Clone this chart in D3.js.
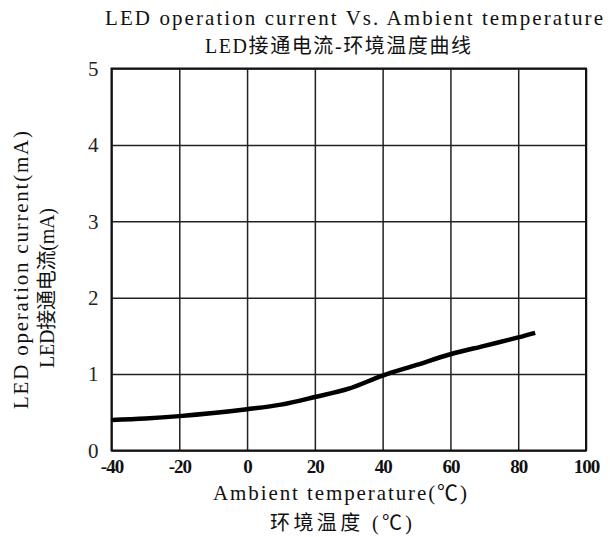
<!DOCTYPE html>
<html>
<head>
<meta charset="utf-8">
<script src="https://cdn.jsdelivr.net/npm/d3@7"></script>
<style>
  body { margin: 0; background: #fff; }
  .lbl { font-family: 'Liberation Serif', 'Noto Sans CJK SC', serif; fill: #111; }
</style>
</head>
<body>
<div id="chart"></div>
<script>
// data
const temps = [-40, -30, -20, -10, 0, 10, 20, 30, 40, 50, 60, 70, 80, 85];
const currents = [0.40, 0.42, 0.45, 0.49, 0.54, 0.60, 0.70, 0.81, 0.98, 1.12, 1.26, 1.37, 1.48, 1.54];
const xTicks = [-40, -20, 0, 20, 40, 60, 80, 100];
const yTicks = [0, 1, 2, 3, 4, 5];

const width = 610, height = 537;
const margin = { top: 68.5, right: 24, bottom: 86.5, left: 111.5 };
const innerW = width - margin.left - margin.right;
const innerH = height - margin.top - margin.bottom;

const svg = d3.select('#chart')
  .append('svg')
  .attr('width', width)
  .attr('height', height);

const x = d3.scaleLinear().domain([-40, 100]).range([0, innerW]);
const y = d3.scaleLinear().domain([0, 5]).range([innerH, 0]);

const chart = svg.append('g')
  .attr('transform', `translate(${margin.left},${margin.top})`);

// grid
chart.append('g')
  .call(d3.axisBottom(x).tickValues(xTicks).tickSize(innerH).tickFormat(''))
  .call(g => g.select('.domain').remove())
  .selectAll('line')
  .attr('stroke', '#222')
  .attr('stroke-width', 1.5);

chart.append('g')
  .call(d3.axisRight(y).tickValues(yTicks).tickSize(innerW).tickFormat(''))
  .call(g => g.select('.domain').remove())
  .selectAll('line')
  .attr('stroke', '#222')
  .attr('stroke-width', 1.5);

// frame
chart.append('rect')
  .attr('width', innerW)
  .attr('height', innerH)
  .attr('fill', 'none')
  .attr('stroke', '#111')
  .attr('stroke-width', 2);

// y tick labels
const yAxis = chart.append('g')
  .call(d3.axisLeft(y).tickValues(yTicks).tickSize(0).tickPadding(13).tickFormat(d3.format('d')));
yAxis.select('.domain').remove();
yAxis.selectAll('text')
  .style('font-family', 'Liberation Serif, serif')
  .style('font-size', '21px')
  .attr('fill', '#222');

// x tick labels
const xAxis = chart.append('g')
  .attr('transform', `translate(0,${innerH})`)
  .call(d3.axisBottom(x).tickValues(xTicks).tickSize(0).tickPadding(9).tickFormat(d => String(d)));
xAxis.select('.domain').remove();
xAxis.selectAll('text')
  .style('font-family', 'Liberation Serif, serif')
  .style('font-size', '19px')
  .style('font-weight', 'bold')
  .style('letter-spacing', '-1px')
  .attr('fill', '#111');

// curve
const line = d3.line()
  .x((d, i) => x(temps[i]))
  .y(d => y(d))
  .curve(d3.curveCatmullRom);

chart.append('path')
  .datum(currents)
  .attr('d', line)
  .attr('fill', 'none')
  .attr('stroke', '#000')
  .attr('stroke-width', 4.5)
  .attr('stroke-linecap', 'butt');

// titles
function addText(txt, tx, ty, len, size, rot) {
  svg.append('text')
    .attr('class', 'lbl')
    .attr('transform', `translate(${tx},${ty})` + (rot ? ' rotate(-90)' : ''))
    .attr('text-anchor', 'middle')
    .style('font-size', size + 'px')
    .attr('textLength', len)
    .attr('lengthAdjust', 'spacing')
    .text(txt);
}

addText('LED operation current Vs. Ambient temperature', 354, 25, 498, 21);
addText('LED接通电流-环境温度曲线', 338, 53, 266, 20);
addText('Ambient temperature(℃)', 340, 500, 254, 21);
addText('环境温度 (℃)', 341, 530, 142, 20);
addText('LED operation current(mA)', 28, 270, 278, 21, true);
addText('LED接通电流(mA)', 54, 288, 160, 20, true);
</script>
</body>
</html>
